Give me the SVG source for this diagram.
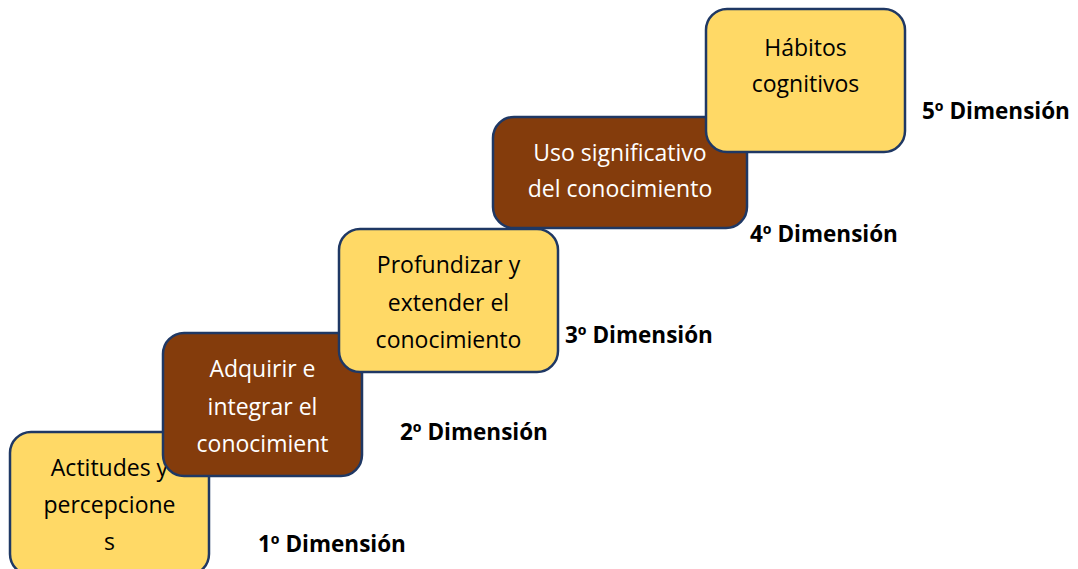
<svg xmlns="http://www.w3.org/2000/svg" width="1078" height="569" viewBox="0 0 1078 569">
<style>
.box{stroke:#1F3864;stroke-width:2.5}
.y{fill:#FFD966}
.b{fill:#843C0C}
.t{font-family:"Open Sans","Liberation Sans",sans-serif;font-size:23px;text-anchor:middle}
.tk{fill:#000}
.tw{fill:#fff}
.lbl{font-family:"Open Sans","Liberation Sans",sans-serif;font-size:22.5px;font-weight:bold;fill:#000}
</style>
<rect width="1078" height="569" fill="#fff"/>
<g id="connectors"></g>
<g id="node1">
<rect class="box y" x="10" y="432" width="199" height="143" rx="21"/>
<text class="t tk" x="109.5" y="476">Actitudes y</text>
<text class="t tk" x="109.5" y="513">percepcione</text>
<text class="t tk" x="109.5" y="550">s</text>
</g>
<g id="node2">
<rect class="box b" x="163" y="333" width="199" height="143" rx="21"/>
<text class="t tw" x="262.5" y="377">Adquirir e</text>
<text class="t tw" x="262.5" y="415">integrar el</text>
<text class="t tw" x="262.5" y="452">conocimient</text>
</g>
<g id="node3">
<rect class="box y" x="339" y="229" width="219" height="143" rx="21"/>
<text class="t tk" x="448.5" y="273">Profundizar y</text>
<text class="t tk" x="448.5" y="311">extender el</text>
<text class="t tk" x="448.5" y="348">conocimiento</text>
</g>
<g id="node4">
<rect class="box b" x="493" y="117" width="254" height="111" rx="21"/>
<text class="t tw" x="620" y="161">Uso significativo</text>
<text class="t tw" x="620" y="197">del conocimiento</text>
</g>
<g id="node5">
<rect class="box y" x="706" y="9" width="199" height="143" rx="21"/>
<text class="t tk" x="805.5" y="56">Hábitos</text>
<text class="t tk" x="805.5" y="92">cognitivos</text>
</g>
<g id="labels">
<text class="lbl" x="258" y="552">1º Dimensión</text>
<text class="lbl" x="400" y="440">2º Dimensión</text>
<text class="lbl" x="565" y="343">3º Dimensión</text>
<text class="lbl" x="750" y="242">4º Dimensión</text>
<text class="lbl" x="922" y="119">5º Dimensión</text>
</g>
</svg>
